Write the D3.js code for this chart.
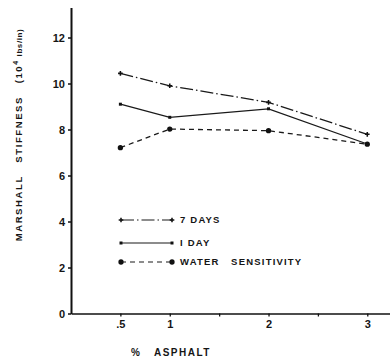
<!DOCTYPE html>
<html>
<head>
<meta charset="utf-8">
<script src="https://cdn.jsdelivr.net/npm/d3@7"></script>
<style>
  body { margin: 0; background: #fff; }
  svg { display: block; }
  text { font-family: "Liberation Sans", Arial, sans-serif; fill: #151515; }
</style>
</head>
<body>
<div id="chart"></div>
<script>
// données
const asphalt = [0.5, 1, 2, 3];
const sevenDays = [10.44, 9.9, 9.18, 7.79];
const oneDay = [9.1, 8.53, 8.9, 7.37];
const waterSens = [7.21, 8.02, 7.95, 7.36];
const seriesNames = ["7 DAYS", "I DAY", "WATER   SENSITIVITY"];
const yTicks = [0, 2, 4, 6, 8, 10, 12];
const xTicks = [0.5, 1, 1.5, 2, 2.5, 3];
const xTickLabels = [".5", "1", "", "2", "", "3"];

const width = 390;
const height = 361;

const svg = d3
  .select("#chart")
  .append("svg")
  .attr("width", width)
  .attr("height", height);

// échelles
const x = d3.scaleLinear().domain([0, 3.23]).range([71, 390]);
const y = d3.scaleLinear().domain([0, 13.3]).range([313.5, 7.6]);

// axe Y
const yAxis = d3.axisLeft(y).tickValues(yTicks).tickSize(3).tickPadding(3).tickSizeOuter(0);
const gy = svg.append("g").attr("transform", "translate(71,0)").call(yAxis);
gy.select(".domain").attr("stroke", "#111").attr("stroke-width", 2);
gy.selectAll(".tick line").attr("stroke", "#111").attr("stroke-width", 1.5);
gy.selectAll(".tick text")
  .style("font-size", "11px")
  .style("font-weight", "bold")
  .attr("fill", "#151515");

// axe X
const xAxis = d3
  .axisBottom(x)
  .tickValues(xTicks)
  .tickFormat((d, i) => xTickLabels[i])
  .tickSize(3)
  .tickPadding(4)
  .tickSizeOuter(0);
const gx = svg.append("g").attr("transform", "translate(0," + y(0) + ")").call(xAxis);
gx.select(".domain").attr("stroke", "#111").attr("stroke-width", 1.6);
gx.selectAll(".tick line").attr("stroke", "#111").attr("stroke-width", 1.3);
gx.selectAll(".tick text")
  .style("font-size", "11px")
  .style("font-weight", "bold")
  .attr("fill", "#151515");

// séries
const series = [
  { name: seriesNames[0], values: sevenDays, dash: "13,3,1.5,3", symbol: d3.symbolCross, size: 12 },
  { name: seriesNames[1], values: oneDay, dash: null, symbol: d3.symbolSquare, size: 9 },
  { name: seriesNames[2], values: waterSens, dash: "5,4", symbol: d3.symbolCircle, size: 22 },
];

const line = d3
  .line()
  .x((d) => x(d[0]))
  .y((d) => y(d[1]));

series.forEach((s) => {
  const pts = asphalt.map((a, i) => [a, s.values[i]]);
  svg
    .append("path")
    .datum(pts)
    .attr("d", line)
    .attr("fill", "none")
    .attr("stroke", "#1a1a1a")
    .attr("stroke-width", 1.3)
    .attr("stroke-dasharray", s.dash);

  svg
    .selectAll(null)
    .data(pts)
    .enter()
    .append("path")
    .attr("d", d3.symbol().type(s.symbol).size(s.size))
    .attr("transform", (d) => "translate(" + x(d[0]) + "," + y(d[1]) + ")")
    .attr("fill", "#111");
});

// légende
const legendY = [220, 243, 262];
series.forEach((s, i) => {
  const g = svg.append("g").attr("transform", "translate(0," + legendY[i] + ")");
  g.append("line")
    .attr("x1", 121)
    .attr("x2", 172)
    .attr("stroke", "#1a1a1a")
    .attr("stroke-width", 1.2)
    .attr("stroke-dasharray", s.dash);
  [121, 172].forEach((px) => {
    g.append("path")
      .attr("d", d3.symbol().type(s.symbol).size(s.size))
      .attr("transform", "translate(" + px + ",0)")
      .attr("fill", "#111");
  });
  g.append("text")
    .attr("x", 180)
    .attr("dy", "0.35em")
    .style("font-size", "9.5px")
    .style("font-weight", "bold")
    .style("letter-spacing", "1.2px")
    .style("white-space", "pre")
    .text(s.name);
});

// titre de l'axe Y
const yLabel = svg
  .append("text")
  .attr("transform", "translate(22,135) rotate(-90)")
  .attr("text-anchor", "middle")
  .style("font-size", "9.5px")
  .style("font-weight", "bold")
  .style("letter-spacing", "1.6px")
  .style("white-space", "pre");
yLabel.append("tspan").text("MARSHALL   STIFFNESS   (10");
yLabel.append("tspan").attr("dy", "-4").style("font-size", "7px").text("4");
yLabel.append("tspan").attr("dy", "4").style("font-size", "8px").style("letter-spacing", "0.6px").text(" lbs/in)");

// titre de l'axe X
svg
  .append("text")
  .attr("x", 171)
  .attr("y", 356)
  .attr("text-anchor", "middle")
  .style("font-size", "10px")
  .style("font-weight", "bold")
  .style("letter-spacing", "1.5px")
  .style("white-space", "pre")
  .text("%   ASPHALT");
</script>
</body>
</html>
